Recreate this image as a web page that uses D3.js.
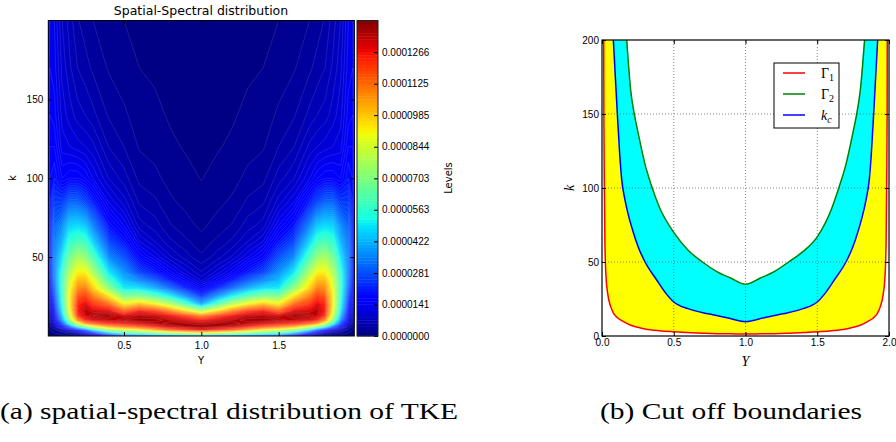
<!DOCTYPE html>
<html>
<head>
<meta charset="utf-8">
<script src="https://cdn.jsdelivr.net/npm/d3@7"></script>
<style>
  body { margin: 0; background: #fff; }
  text { fill: #000; }
</style>
</head>
<body>
<svg id="fig" width="896" height="442"></svg>
<script>
// ---------------- left panel: spatial-spectral distribution ----------------
// half channel (Y = 0 .. 1); the picture is mirror symmetric about Y = 1
const yCols = [0, 0.02, 0.05, 0.1, 0.15, 0.2, 0.25, 0.3, 0.4, 0.5, 0.6, 0.7, 0.8, 0.9, 1.0];
const kRows = [0, 2, 4, 6, 8, 10, 13, 16, 20, 25, 30, 35, 40, 50, 60, 70, 85, 100, 120, 140, 170, 200];
// TKE, in colour levels (1 level = levelUnit), one array per Y column
const tkeCols = [
  [0, 0, 0, 0, 0, 0, 0, 0, 0, 0, 0, 0, 0, 0, 0, 0, 0, 0, 0, 0, 0, 0],
  [0, 0.5, 1, 2, 3, 4, 5, 6, 8, 10, 12, 13, 14, 15, 15, 15, 14, 13, 12, 11, 10, 9],
  [0, 1, 2, 4, 7, 9, 11, 13, 16, 19, 22, 24, 25, 25, 24, 22, 18, 14, 12, 10.5, 9.5, 9],
  [0.5, 2, 5, 12, 20, 26, 31, 35, 38, 40, 41, 41, 40, 35, 30, 26, 18, 11, 8.5, 7.6, 6.7, 6],
  [1, 3, 8, 22, 40, 52, 60, 64, 66, 66, 64, 61, 57, 48, 40, 33, 22, 12, 8, 6.5, 5.2, 4.5],
  [2, 5, 13, 38, 60, 76, 87, 89, 88, 83, 77, 72, 66, 55, 43, 34, 22, 12, 7.5, 5.5, 4, 3.1],
  [3, 9, 22, 50, 75, 88, 94, 95, 92, 86, 79, 72, 66, 52, 41, 32, 19, 11, 7, 5, 3.4, 2.5],
  [5, 15, 35, 62, 82, 92, 96, 93, 87, 79, 70, 64, 56, 43, 33, 25, 15, 9, 6.3, 4.3, 2.8, 2.0],
  [12, 30, 55, 74, 88, 94, 97, 92, 82, 68, 53, 43, 36, 26, 19, 14, 9, 6, 4, 2.9, 1.9, 1.4],
  [18, 42, 61, 80, 90, 96, 93, 82, 67, 50, 36, 31, 27, 20, 14, 10, 6.5, 4.5, 3.0, 2.2, 1.4, 1.0],
  [20, 45, 66, 84, 93, 97, 95, 89, 73, 51, 35, 26, 19, 12, 8, 5.5, 3.8, 2.7, 1.9, 1.45, 1.0, 0.78],
  [22, 50, 75, 89, 95, 97, 94, 86, 67, 45, 30, 21, 15, 9, 6, 4.5, 3.2, 2.3, 1.6, 1.2, 0.85, 0.65],
  [24, 55, 83, 94, 97, 95, 90, 78, 58, 37, 23, 15, 10.5, 6.2, 4.2, 3.1, 2.2, 1.6, 1.15, 0.9, 0.65, 0.5],
  [24, 60, 88, 96, 96, 93, 85, 67, 44, 27, 16, 10.5, 7.5, 4.5, 3.2, 2.4, 1.7, 1.25, 0.92, 0.72, 0.52, 0.4],
  [25, 64, 92, 97, 95, 90, 78, 55, 30, 18, 11, 7, 5.2, 3.2, 2.4, 1.75, 1.3, 0.97, 0.75, 0.58, 0.42, 0.32]
];
const levelTop = 1.407e-4;      // top of the colour bar
const nLevels = 100;
const levelUnit = levelTop / nLevels;
const cbTickLabels = ["0.0000000", "0.0000141", "0.0000281", "0.0000422", "0.0000563",
                      "0.0000703", "0.0000844", "0.0000985", "0.0001125", "0.0001266"];
const specXTicks = [0.5, 1.0, 1.5];
const specKTicks = [50, 100, 150];

// ---------------- right panel: cut off boundaries ----------------
const gamma1 = [[0.012, 200], [0.013, 150], [0.016, 105], [0.02, 65], [0.028, 40], [0.04, 28.5],
  [0.06, 20], [0.08, 15.5], [0.1, 13], [0.15, 9.7], [0.2, 7.3], [0.25, 5.9], [0.3, 4.8], [0.4, 3.6],
  [0.5, 2.9], [0.6, 2.3], [0.7, 1.9], [0.8, 1.6], [0.9, 1.45], [1.0, 1.35], [1.1, 1.45], [1.2, 1.6],
  [1.3, 1.9], [1.4, 2.3], [1.5, 2.9], [1.6, 3.6], [1.7, 4.8], [1.75, 5.9], [1.8, 7.3], [1.85, 9.7],
  [1.9, 13], [1.92, 15.5], [1.94, 20], [1.96, 28.5], [1.972, 40], [1.98, 65], [1.984, 105],
  [1.987, 150], [1.988, 200]];
const gamma2 = [[0.172, 200], [0.2, 166], [0.225, 150], [0.25, 138], [0.3, 116], [0.35, 100],
  [0.4, 87], [0.5, 70], [0.6, 58], [0.7, 50], [0.8, 43.5], [0.9, 39], [1.0, 35], [1.1, 39],
  [1.2, 43.5], [1.3, 50], [1.4, 57], [1.5, 67], [1.6, 86], [1.65, 100], [1.7, 116], [1.75, 138],
  [1.775, 150], [1.8, 166], [1.83, 200]];
const kCut = [[0.079, 200], [0.093, 175], [0.107, 150], [0.122, 125], [0.137, 106], [0.16, 92],
  [0.183, 82], [0.215, 71], [0.253, 60], [0.3, 50], [0.38, 38], [0.44, 29.5], [0.5, 23], [0.6, 18.5],
  [0.74, 15], [0.87, 12.3], [1.0, 9.7], [1.13, 12.3], [1.26, 15], [1.4, 18.5], [1.5, 23], [1.56, 29.5],
  [1.62, 38], [1.7, 50], [1.747, 60], [1.785, 71], [1.817, 82], [1.84, 92], [1.863, 106],
  [1.878, 125], [1.893, 150], [1.907, 175], [1.921, 200]];
const cutXTicks = [0, 0.5, 1, 1.5, 2];
const cutXLabels = ["0.0", "0.5", "1.0", "1.5", "2.0"];
const cutKTicks = [0, 50, 100, 150, 200];
const legendItems = [
  { sym: "Γ", sub: "1", italic: false, color: "#ff0000" },
  { sym: "Γ", sub: "2", italic: false, color: "#008000" },
  { sym: "k", sub: "c", italic: true, color: "#0000ff" }
];

const svg = d3.select("#fig");
const sans = "DejaVu Sans, sans-serif";
const serif = "Liberation Serif, DejaVu Serif, serif";

// matplotlib "jet"
const jetR = d3.scaleLinear([0, 0.35, 0.66, 0.89, 1], [0, 0, 1, 1, 0.5]).clamp(true);
const jetG = d3.scaleLinear([0, 0.125, 0.375, 0.64, 0.91, 1], [0, 0, 1, 1, 0, 0]).clamp(true);
const jetB = d3.scaleLinear([0, 0.11, 0.34, 0.65, 1], [0.5, 1, 1, 0, 0]).clamp(true);
const jet = t => d3.rgb(255 * jetR(t), 255 * jetG(t), 255 * jetB(t)).formatHex();

// ===== left panel =====
const xA = d3.scaleLinear([0.011, 1.989], [48.3, 354.3]);
const yA = d3.scaleLinear([0, 200], [336, 20.5]);

const fullY = yCols.concat(yCols.slice(0, -1).reverse().map(y => +(2 - y).toFixed(3)));
const fullCols = tkeCols.concat(tkeCols.slice(0, -1).reverse());
const nx = fullY.length, ny = kRows.length;
const values = new Array(nx * ny);
for (let j = 0; j < ny; j++)
  for (let i = 0; i < nx; i++) values[j * nx + i] = fullCols[i][j] * levelUnit;

const thresholds = d3.range(nLevels).map(i => i * levelUnit);
const bands = d3.contours().size([nx, ny]).thresholds(thresholds)(values);

const gxY = d3.scaleLinear(d3.range(nx).map(i => i + 0.5), fullY).clamp(true);
const gyK = d3.scaleLinear(d3.range(ny).map(j => j + 0.5), kRows).clamp(true);
const gridPath = d3.geoPath(d3.geoTransform({
  point(x, y) { this.stream.point(xA(gxY(x)), yA(gyK(y))); }
}));

const defs = svg.append("defs");
defs.append("clipPath").attr("id", "clipL").append("rect")
  .attr("x", xA.range()[0]).attr("y", yA.range()[1])
  .attr("width", xA.range()[1] - xA.range()[0]).attr("height", yA.range()[0] - yA.range()[1]);

svg.append("g").attr("clip-path", "url(#clipL)")
  .selectAll("path").data(bands).join("path")
  .attr("d", gridPath)
  .attr("fill", (d, i) => jet((i + 0.5) / nLevels))
  .attr("stroke", "rgba(255,255,255,0.22)")
  .attr("stroke-width", 0.5);

const gAxL = svg.append("g").attr("font-family", sans).attr("font-size", 10);
gAxL.append("g").attr("transform", `translate(0,${yA(0)})`)
  .call(d3.axisBottom(xA).tickValues(specXTicks).tickFormat(d3.format(".1f")).tickSize(-4).tickPadding(6));
gAxL.append("g").attr("transform", `translate(0,${yA(200)})`)
  .call(d3.axisTop(xA).tickValues(specXTicks).tickFormat("").tickSize(-4));
gAxL.append("g").attr("transform", `translate(${xA.range()[0]},0)`)
  .call(d3.axisLeft(yA).tickValues(specKTicks).tickSize(-4).tickPadding(5));
gAxL.append("g").attr("transform", `translate(${xA.range()[1]},0)`)
  .call(d3.axisRight(yA).tickValues(specKTicks).tickFormat("").tickSize(-4));
gAxL.selectAll(".domain").remove();
gAxL.selectAll(".tick line").attr("stroke", "#000");
gAxL.selectAll(".tick text").attr("fill", "#000");

svg.append("rect").attr("x", xA.range()[0]).attr("y", yA.range()[1])
  .attr("width", xA.range()[1] - xA.range()[0]).attr("height", yA.range()[0] - yA.range()[1])
  .attr("fill", "none").attr("stroke", "#000").attr("stroke-width", 1);

svg.append("text").attr("x", 201).attr("y", 15).attr("text-anchor", "middle")
  .attr("font-family", sans).attr("font-size", 12.5).text("Spatial-Spectral distribution");
svg.append("text").attr("x", 201).attr("y", 364).attr("text-anchor", "middle")
  .attr("font-family", sans).attr("font-size", 10).text("Y");
svg.append("text").attr("transform", "translate(16,178) rotate(-90)").attr("text-anchor", "middle")
  .attr("font-family", sans).attr("font-size", 10).text("k");

// colour bar
const cbX = 357, cbW = 21;
const yC = d3.scaleLinear([0, levelTop], [336, 20.5]);
svg.append("g").selectAll("rect").data(d3.range(nLevels)).join("rect")
  .attr("x", cbX).attr("width", cbW)
  .attr("y", i => yC((i + 1) * levelUnit))
  .attr("height", i => yC(i * levelUnit) - yC((i + 1) * levelUnit) + 0.4)
  .attr("fill", i => jet((i + 0.5) / nLevels));
const gCb = svg.append("g").attr("transform", `translate(${cbX + cbW},0)`)
  .attr("font-family", sans).attr("font-size", 10.5)
  .call(d3.axisRight(yC).tickValues(cbTickLabels.map(Number))
    .tickFormat((d, i) => cbTickLabels[i]).tickSize(-4).tickPadding(4));
gCb.select(".domain").remove();
gCb.selectAll(".tick line").attr("stroke", "#000");
gCb.selectAll(".tick text").attr("fill", "#000");
svg.append("rect").attr("x", cbX).attr("y", yC(levelTop)).attr("width", cbW)
  .attr("height", yC(0) - yC(levelTop)).attr("fill", "none").attr("stroke", "#222").attr("stroke-width", 1);
svg.append("text").attr("transform", "translate(452,178) rotate(-90)").attr("text-anchor", "middle")
  .attr("font-family", sans).attr("font-size", 10).text("Levels");

// ===== right panel =====
const xB = d3.scaleLinear([0, 2], [602, 889]);
const yB = d3.scaleLinear([0, 200], [336, 40]);
defs.append("clipPath").attr("id", "clipR").append("rect")
  .attr("x", xB(0)).attr("y", yB(200)).attr("width", xB(2) - xB(0)).attr("height", yB(0) - yB(200));

const below = pts => d3.area().curve(d3.curveMonotoneX)
  .x(d => xB(d[0])).y0(yB(0)).y1(d => yB(d[1]))([[0, 200], ...pts, [2, 200]]);
const curve = d3.line().curve(d3.curveMonotoneX).x(d => xB(d[0])).y(d => yB(d[1]));

const gR = svg.append("g").attr("clip-path", "url(#clipR)");
gR.append("path").attr("d", below(gamma2)).attr("fill", "#00ffff");
gR.append("path").attr("d", below(kCut)).attr("fill", "#ffff00");
gR.append("path").attr("d", below(gamma1)).attr("fill", "#ffffff");

// dotted grid
const gGrid = svg.append("g").attr("stroke", "#555").attr("stroke-width", 0.7).attr("stroke-dasharray", "1,2");
gGrid.selectAll("line.v").data(cutXTicks.slice(1, -1)).join("line")
  .attr("x1", d => xB(d)).attr("x2", d => xB(d)).attr("y1", yB(0)).attr("y2", yB(200));
gGrid.selectAll("line.h").data(cutKTicks.slice(1, -1)).join("line")
  .attr("x1", xB(0)).attr("x2", xB(2)).attr("y1", d => yB(d)).attr("y2", d => yB(d));

gR.append("path").attr("d", curve(gamma1)).attr("fill", "none").attr("stroke", "#ff0000").attr("stroke-width", 1.5);
gR.append("path").attr("d", curve(kCut)).attr("fill", "none").attr("stroke", "#0000ff").attr("stroke-width", 1.5);
gR.append("path").attr("d", curve(gamma2)).attr("fill", "none").attr("stroke", "#008000").attr("stroke-width", 1.5);

const gAxR = svg.append("g").attr("font-family", serif).attr("font-size", 13);
gAxR.append("g").attr("transform", `translate(0,${yB(0)})`)
  .call(d3.axisBottom(xB).tickValues(cutXTicks).tickFormat((d, i) => cutXLabels[i]).tickSize(-4).tickPadding(3));
gAxR.append("g").attr("transform", `translate(0,${yB(200)})`)
  .call(d3.axisTop(xB).tickValues(cutXTicks).tickFormat("").tickSize(-4));
gAxR.append("g").attr("transform", `translate(${xB(0)},0)`)
  .call(d3.axisLeft(yB).tickValues(cutKTicks).tickSize(-4).tickPadding(3));
gAxR.append("g").attr("transform", `translate(${xB(2)},0)`)
  .call(d3.axisRight(yB).tickValues(cutKTicks).tickFormat("").tickSize(-4));
gAxR.selectAll(".domain").remove();
gAxR.selectAll(".tick line").attr("stroke", "#000");
gAxR.selectAll(".tick text").attr("fill", "#333");

svg.append("rect").attr("x", xB(0)).attr("y", yB(200)).attr("width", xB(2) - xB(0))
  .attr("height", yB(0) - yB(200)).attr("fill", "none").attr("stroke", "#000").attr("stroke-width", 1.2);

svg.append("text").attr("x", xB(1)).attr("y", 366).attr("text-anchor", "middle")
  .attr("font-family", serif).attr("font-style", "italic").attr("font-size", 14).text("Y");
svg.append("text").attr("transform", "translate(574,188) rotate(-90)").attr("text-anchor", "middle")
  .attr("font-family", serif).attr("font-style", "italic").attr("font-size", 14).text("k");

// legend
const gLeg = svg.append("g").attr("transform", "translate(774,63)");
gLeg.append("rect").attr("width", 65).attr("height", 65).attr("fill", "#fff")
  .attr("stroke", "#000").attr("stroke-width", 1);
const legRow = gLeg.selectAll("g.item").data(legendItems).join("g")
  .attr("transform", (d, i) => `translate(0,${10 + i * 21})`);
legRow.append("line").attr("x1", 9).attr("x2", 31).attr("stroke", d => d.color).attr("stroke-width", 1.5);
const legText = legRow.append("text").attr("x", 47).attr("y", 5)
  .attr("font-family", serif).attr("font-size", 14);
legText.append("tspan").attr("font-style", d => d.italic ? "italic" : "normal").text(d => d.sym);
legText.append("tspan").attr("dy", 3).attr("font-size", 10)
  .attr("font-style", d => d.italic ? "italic" : "normal").text(d => d.sub);

// captions
svg.append("text").attr("x", 0).attr("y", 419).attr("font-family", serif).attr("font-size", 24)
  .attr("textLength", 458).attr("lengthAdjust", "spacingAndGlyphs")
  .text("(a) spatial-spectral distribution of TKE");
svg.append("text").attr("x", 600).attr("y", 419).attr("font-family", serif).attr("font-size", 24)
  .attr("textLength", 262).attr("lengthAdjust", "spacingAndGlyphs")
  .text("(b) Cut off boundaries");
</script>
</body>
</html>
